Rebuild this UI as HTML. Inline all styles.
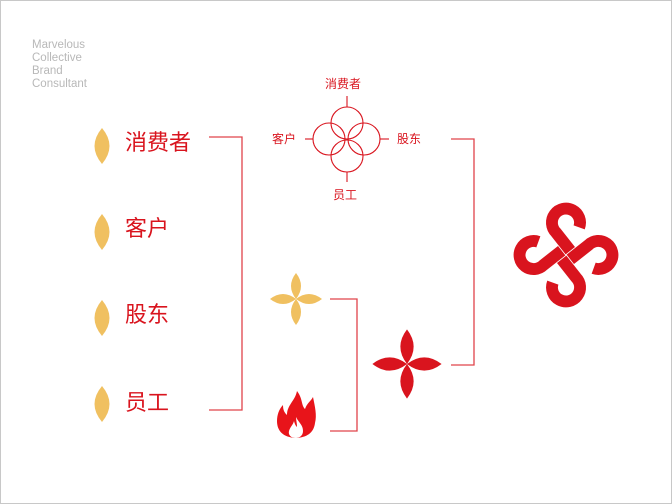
<!DOCTYPE html>
<html><head><meta charset="utf-8"><style>
html,body{margin:0;padding:0;background:#fff}
.wrap{position:relative;width:670px;height:502px;border:1px solid #c8c8c8;overflow:hidden;font-family:"Liberation Sans","Noto Sans CJK SC",sans-serif}
.brand{position:absolute;left:31px;top:38px;color:#b8b8b8;font-size:11.5px;line-height:13px}
.t{position:absolute;color:#d9141e;font-size:22px;line-height:26px;white-space:nowrap}
.s{position:absolute;color:#d9141e;font-size:12px;line-height:14px;white-space:nowrap}
svg{position:absolute;left:0;top:0}
</style></head><body><div class="wrap">
<div class="brand">Marvelous<br>Collective<br>Brand<br>Consultant</div>
<div class="t" style="left:124px;top:129px">消费者</div>
<div class="t" style="left:124px;top:215px">客户</div>
<div class="t" style="left:124px;top:301px">股东</div>
<div class="t" style="left:124px;top:389px">员工</div>
<div class="s" style="left:324px;top:76px">消费者</div>
<div class="s" style="left:271px;top:131px">客户</div>
<div class="s" style="left:396px;top:131px">股东</div>
<div class="s" style="left:332px;top:187px">员工</div>
<svg width="672" height="504" viewBox="0 0 672 504">
<defs>
<path id="leaf" d="M0,-18 Q15,0 0,18 Q-15,0 0,-18Z" fill="#f0c060"/>
<path id="pet" d="M0,0 Q10,-13 0,-26 Q-10,-13 0,0Z"/>
<path id="arm" d="M12.2,-25.6 A13 13 0 1 0 -9.2,-20.8 L4,-4" fill="none" stroke="#d9141e" stroke-width="11"/>
</defs>
<use href="#leaf" x="101" y="145"/>
<use href="#leaf" x="101" y="231"/>
<use href="#leaf" x="101" y="317"/>
<use href="#leaf" x="101" y="403"/>
<g fill="none" stroke="#e0434a" stroke-width="1.3">
<polyline points="208,136 241,136 241,409 208,409"/>
<polyline points="450,138 473,138 473,364 450,364"/>
<polyline points="329,298 356,298 356,430 329,430"/>
</g>
<g fill="none" stroke="#d9141e" stroke-width="1.1">
<circle cx="346" cy="122" r="16"/>
<circle cx="328" cy="138" r="16"/>
<circle cx="363" cy="138" r="16"/>
<circle cx="346" cy="155" r="16"/>
<line x1="346" y1="95" x2="346" y2="106"/>
<line x1="346" y1="171" x2="346" y2="181"/>
<line x1="304" y1="138" x2="312" y2="138"/>
<line x1="379" y1="138" x2="388" y2="138"/>
</g>
<g transform="translate(295,298)" fill="#f0c060">
<use href="#pet"/><use href="#pet" transform="rotate(90)"/><use href="#pet" transform="rotate(180)"/><use href="#pet" transform="rotate(270)"/>
</g>
<g transform="translate(406,363) scale(1.33)" fill="#d9141e">
<use href="#pet"/><use href="#pet" transform="rotate(90)"/><use href="#pet" transform="rotate(180)"/><use href="#pet" transform="rotate(270)"/>
</g>
<g transform="translate(565,254) scale(1.08)">
<use href="#arm"/><use href="#arm" transform="rotate(90)"/><use href="#arm" transform="rotate(180)"/><use href="#arm" transform="rotate(270)"/>
</g>
<g transform="translate(276,390)">
<path d="M20,0 C26,8 24,14 28,18 C30,12 34,10 36,6 C38,16 40,24 38,32 C37,40 32,46 20,47 L18,47 C6,46 0,40 0,30 C0,24 2,18 6,14 C6,20 8,22 10,24 C10,14 18,10 20,0Z" fill="#e8141a"/>
<path d="M19,26 C22,32 26,34 26,40 C26,45 22,47 19,47 C14,47 11,44 12,40 C13,36 16,34 17,30 C18,34 19,35 20,36 C20,32 19,29 19,26Z" fill="#fff"/>
</g>
</svg>
</div></body></html>
